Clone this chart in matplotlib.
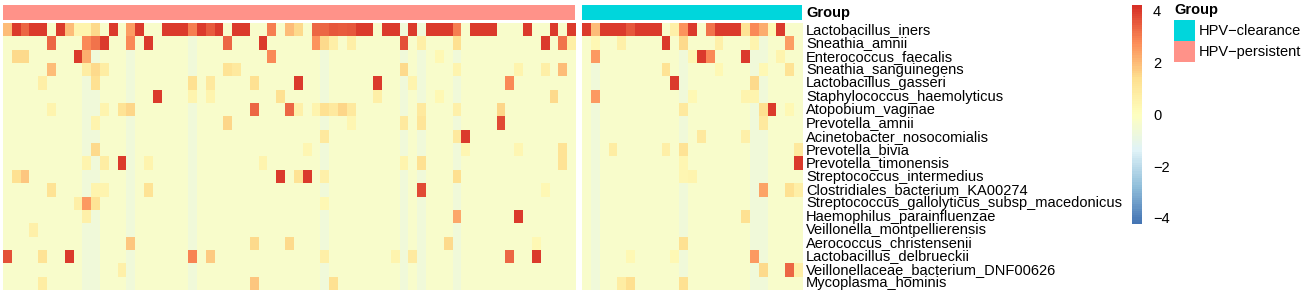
import matplotlib
matplotlib.use("Agg")
import matplotlib.pyplot as plt
import numpy as np
from matplotlib.colors import LinearSegmentedColormap, ListedColormap
from matplotlib.patches import Rectangle

plt.rcParams['font.family'] = ['Liberation Sans', 'DejaVu Sans']

species = [
    "Lactobacillus_iners", "Sneathia_amnii", "Enterococcus_faecalis",
    "Sneathia_sanguinegens", "Lactobacillus_gasseri", "Staphylococcus_haemolyticus",
    "Atopobium_vaginae", "Prevotella_amnii", "Acinetobacter_nosocomialis",
    "Prevotella_bivia", "Prevotella_timonensis", "Streptococcus_intermedius",
    "Clostridiales_bacterium_KA00274", "Streptococcus_gallolyticus_subsp_macedonicus",
    "Haemophilus_parainfluenzae", "Veillonella_montpellierensis",
    "Aerococcus_christensenii", "Lactobacillus_delbrueckii",
    "Veillonellaceae_bacterium_DNF00626", "Mycoplasma_hominis",
]
groups = ["HPV\u2212persistent", "HPV\u2212clearance"]
n_persistent = 65
n_clearance = 25
legend_groups = ["HPV\u2212clearance", "HPV\u2212persistent"]
cbar_ticks = [4, 2, 0, -2, -4]

# row-scaled abundance (z-scores); first 65 samples persistent, last 25 clearance
L_iners = [2.0,4,3.3,4,4,-.3,4,2.0,.5,.5, 1.5,-.3,4,-.3,2.5,4,-.3,-.3,4,4,
           4,3.0,4,3.5,4,-.3,4,4,-.3,-.3, 3.0,-.3,2.0,1.5,-.3,3.3,3.3,3.6,3.5,3.6,
           4,4,-.3,4,4,-.6,4,-.6,4,4, 4,3.0,-.3,4,4,4,-.3,-.3,-.3,4, -.3,-.3,4,-.3,4,
           4,2.0,4,4,4,3.6,4,4,4,-.3, .6,2.7,4,-.3,3.2,4,4,4,1.2,2.8, 2.2,.3,4,-.3,-.3]
S_amnii = [-.3,-.3,-.3,-.3,-.3,3.3,-.3,-.3,-.3,2.8, 3.2,4,-.3,-.3,2.8,-.3,4,-.3,-.3,-.3,
           -.3,-.6,-.3,-.3,-.3,3.3,-.3,-.3,-.3,4, -.3,-.3,-.3,-.3,-.3,2.7,1.5,.7,-.3,.7,
           -.3,-.3,-.3,-.3,-.3,3.7,-.3,.7,-.3,-.3, -.3,1.3,-.3,-.3,-.3,-.3,-.3,-.3,-.3,-.3, -.3,4,-.3,3.2,.7,
           -.3,.3,-.3,-.3,.6,-.3,-.3,-.3,-.3,4, -.3,1.5,-.3,-.3,-.3,.6,-.3,-.3,-.3,.5, -.6,-.3,-.3,2.5,-.3]
E_faecalis = [-.3,1.5,1.5,-.3,-.3,-.3,-.3,-.3,4,2.2, -.6,-.3,-.3,-.3,-.6,-.3,-.3,-.3,-.3,-.3,
              -.3,-.6,-.3,-.3,-.3,-.3,-.3,-.3,-.3,-.3, 2.8,-.3,-.3,-.3,-.3,-.3,-.6,-.3,-.3,-.3,
              -.3,-.3,-.3,-.3,-.3,-.6,-.3,-.6,-.3,.3, -.3,-.6,-.3,-.3,-.3,-.3,-.3,-.3,-.3,-.3, -.3,-.3,-.3,-.3,-.3,
              -.3,2.6,-.3,-.3,-.3,-.3,-.3,-.3,-.3,-.3, -.3,-.6,.4,4,2.8,-.3,-.3,-.3,4,-.6, -.6,-.3,.5,-.3,-.3]
S_sanguinegens = [-.3,-.3,-.3,-.3,-.3,2.0,-.3,-.3,-.3,.8, 1.5,.8,-.3,-.3,-.6,-.3,-.3,-.3,-.3,-.3,
                  -.3,-.6,-.3,-.3,-.3,1.2,1.0,-.3,-.3,-.3, -.3,-.3,-.3,-.3,-.3,-.3,-.6,-.3,-.3,-.3,
                  -.3,-.3,-.3,-.3,-.3,1.5,-.3,-.6,-.3,-.3, -.3,.5,-.3,-.3,-.3,-.3,-.3,-.3,.5,-.3, -.3,.7,-.3,2.0,-.3,
                  -.3,-.6,-.3,-.3,-.3,-.3,-.3,-.3,-.3,1.2, -.3,-.6,-.3,-.3,-.3,.3,-.3,-.3,-.3,-.6, .3,-.3,-.3,1.2,-.3]
L_gasseri = [-.3,-.3,-.3,-.3,.7,-.3,-.3,-.3,-.3,-.6, 1.3,-.3,-.3,-.3,-.6,-.3,-.3,-.3,-.3,-.3,
             -.3,1.3,-.3,1.0,-.3,-.3,-.3,-.3,1.3,-.3, -.3,-.3,-.3,4,-.3,-.3,-.6,-.3,-.3,-.3,
             -.3,-.3,4,-.3,-.3,-.6,.5,-.6,-.3,-.3, -.3,-.6,-.3,-.3,-.3,-.3,-.3,2.8,-.3,-.3, -.3,-.3,-.3,-.3,-.3,
             -.3,-.6,-.3,-.3,-.3,-.3,-.3,-.3,-.3,-.3, 4,-.6,-.3,-.3,-.3,-.3,-.3,-.3,-.3,1.5, -.6,-.3,-.3,-.3,-.3]
S_haemolyticus = [-.3,-.3,-.3,-.3,-.3,-.3,-.3,-.3,-.3,-.6, -.6,-.3,-.3,-.3,-.6,-.3,-.3,4,-.3,-.3,
                  -.3,.5,-.3,.5,-.3,-.3,-.3,-.3,-.3,-.3, -.3,1.3,-.3,-.3,-.3,-.3,-.6,-.3,-.3,-.3,
                  -.3,-.3,.7,-.3,-.3,-.6,-.3,-.6,-.3,.3, -.3,-.6,-.3,-.3,-.3,-.3,-.3,-.3,-.3,-.3, -.3,-.3,1.5,-.3,-.3,
                  -.3,2.6,-.3,-.3,-.3,-.3,-.3,-.3,-.3,-.3, -.3,-.6,.3,-.3,-.3,-.3,-.3,-.3,.5,.5, -.6,-.3,-.3,-.3,-.3]
A_vaginae = [-.3,-.3,-.3,-.3,-.3,.5,-.3,-.3,-.3,-.6, -.6,.5,-.3,1.2,1.6,-.3,-.3,-.3,-.3,-.3,
             -.3,-.6,-.3,-.3,-.3,-.3,-.3,-.3,3.3,-.3, -.3,-.3,3.3,.6,-.3,.5,1.3,1.0,1.6,1.0,
             -.3,-.3,-.3,-.3,-.3,-.6,-.3,1.0,-.3,-.3, -.3,.6,-.3,-.3,-.3,-.3,1.6,-.3,-.3,-.3, -.3,-.3,-.3,-.3,-.3,
             -.3,-.6,-.3,-.3,-.3,-.3,-.3,-.3,-.3,-.3, -.3,1.0,-.3,-.3,-.3,-.3,-.3,-.3,-.3,-.6, 1.4,4,-.3,.3,-.3]
P_amnii = [-.3,-.3,-.3,-.3,-.3,-.3,-.3,-.3,-.3,-.6, .5,-.3,-.3,-.3,-.6,-.3,-.3,-.3,-.3,-.3,
           -.3,-.6,-.3,-.3,-.3,1.6,-.3,-.3,-.3,-.3, -.3,-.3,-.3,-.3,-.3,-.3,-.6,-.3,-.3,.4,
           -.3,-.3,-.3,-.3,-.3,1.0,-.3,1.1,-.3,-.3, -.3,-.6,-.3,-.3,-.3,-.3,3.8,-.3,-.3,-.3, -.3,-.3,-.3,-.3,-.3,
           -.3,-.6,-.3,-.3,-.3,-.3,-.3,-.3,-.3,-.3, -.3,-.6,-.3,-.3,-.3,-.3,-.3,-.3,-.3,-.6, 1.0,-.3,-.3,-.3,-.3]
A_nosocomialis = [-.3,-.3,-.3,-.3,-.3,-.3,-.3,-.3,-.3,-.6, -.6,-.3,-.3,-.3,-.6,-.3,-.3,-.3,-.3,-.3,
                  -.3,-.6,-.3,-.3,-.3,-.3,-.3,-.3,-.3,-.3, -.3,-.3,-.3,-.3,-.3,-.3,1.0,-.3,-.3,-.3,
                  -.3,-.3,-.3,-.3,-.3,-.6,-.3,-.6,-.3,-.3, -.3,1.0,4,-.3,-.3,-.3,-.3,-.3,-.3,-.3, -.3,-.3,-.3,-.3,-.3,
                  -.3,-.6,-.3,-.3,-.3,-.3,-.3,-.3,-.3,-.3, -.3,-.6,-.3,1.0,-.3,-.3,-.3,-.3,.6,-.6, -.6,-.3,-.3,-.3,-.3]
P_bivia = [-.3,-.3,-.3,-.3,-.3,-.3,-.3,-.3,-.3,-.6, 1.5,-.3,-.3,-.3,-.6,-.3,-.3,-.3,-.3,-.3,
           -.3,-.6,-.3,-.3,-.3,-.3,-.3,-.3,-.3,-.3, -.3,-.3,-.3,-.3,.4,-.3,-.6,-.3,-.3,-.3,
           -.3,-.3,-.3,-.3,-.3,-.6,-.3,-.6,-.3,-.3, -.3,-.6,.4,-.3,-.3,-.3,-.3,-.3,.4,-.3, -.3,-.3,-.3,1.2,-.3,
           -.3,-.6,-.3,.8,-.3,-.3,-.3,-.3,-.3,.7, -.3,1.2,-.3,-.3,-.3,-.3,-.3,-.3,-.3,-.6, -.6,-.3,-.3,-.3,1.0]
P_timonensis = [-.3,-.3,-.3,-.3,-.3,-.3,-.3,-.3,-.3,.5, -.6,.8,-.3,4,-.6,-.3,.5,-.3,-.3,-.3,
                -.3,-.6,-.3,-.3,-.3,-.3,-.3,-.3,-.3,.5, -.3,-.3,-.3,-.3,-.3,-.3,-.6,-.3,-.3,-.3,
                -.3,-.3,-.3,-.3,-.3,.5,-.3,1.3,-.3,-.3, -.3,-.6,-.3,-.3,-.3,-.3,-.3,-.3,-.3,-.3, -.3,-.3,-.3,1.2,-.3,
                -.3,-.6,-.3,-.3,-.3,-.3,-.3,-.3,-.3,-.3, -.3,.4,-.3,-.3,-.3,-.3,-.3,-.3,-.3,-.6, -.6,-.3,-.3,-.3,4]
S_intermedius = [-.3,1.3,1.8,-.3,-.3,-.3,-.3,-.3,-.3,-.6, -.6,-.3,-.3,-.3,-.6,-.3,-.3,-.3,-.3,-.3,
                 -.3,-.6,-.3,-.3,-.3,-.3,-.3,-.3,-.3,-.3, -.3,4,-.3,1.2,4,-.3,.6,-.3,-.3,-.3,
                 -.3,-.3,-.3,-.3,-.3,-.6,-.3,-.6,-.3,-.3, -.3,1.4,-.3,-.3,-.3,-.3,-.3,-.3,-.3,-.3, -.3,-.3,-.3,-.3,-.3,
                 -.3,-.6,-.3,-.3,-.3,-.3,-.3,-.3,-.3,-.3, -.3,.4,.5,-.3,-.3,-.3,-.3,-.3,-.3,-.6, -.6,-.3,-.3,-.3,-.3]
C_KA00274 = [-.3,-.3,-.3,-.3,-.3,1.2,-.3,-.3,-.3,-.6, .5,.5,-.3,-.3,-.6,-.3,1.2,-.3,-.3,-.3,
             -.3,-.6,-.3,-.3,-.3,-.3,-.3,-.3,-.3,-.3, -.3,-.3,-.3,-.3,-.3,-.3,-.6,-.3,-.3,-.3,
             -.3,-.3,-.3,-.3,-.3,-.6,-.3,3.8,-.3,-.3, -.3,-.6,-.3,-.3,-.3,-.3,-.3,-.3,-.3,-.3, -.3,.3,-.3,-.3,-.3,
             -.3,-.6,-.3,-.3,-.3,-.3,-.3,-.3,-.3,-.3, -.3,-.6,-.3,-.3,-.3,-.3,-.3,-.3,-.3,-.6, 2.4,-.3,-.3,1.3,.7]
S_gallolyticus = [-.3,-.3,-.3,-.3,-.3,-.3,-.3,-.3,.7,2.6, 1.2,-.3,-.3,-.3,-.6,-.3,-.3,-.3,-.3,-.3,
                  -.3,-.6,-.3,-.3,-.3,-.3,-.3,-.3,-.3,-.3, -.3,-.3,-.3,-.3,-.3,-.3,.3,-.3,-.3,-.3,
                  -.3,-.3,-.3,-.3,-.3,-.6,-.3,-.6,-.3,-.3, -.3,-.6,-.3,-.3,-.3,-.3,-.3,-.3,-.3,-.3, -.3,-.3,-.3,-.3,-.3,
                  -.3,-.6,-.3,-.3,-.3,-.3,-.3,-.3,-.3,-.3, -.3,-.6,-.3,-.3,-.3,-.3,-.3,-.3,-.3,-.6, -.6,-.3,-.3,-.3,-.3]
H_parainfluenzae = [-.3,-.3,-.3,-.3,-.3,-.3,-.3,-.3,-.3,.6, -.6,-.3,-.3,-.3,-.6,-.3,-.3,-.3,-.3,-.3,
                    -.3,-.6,-.3,-.3,-.3,-.3,-.3,-.3,-.3,-.3, -.3,-.3,-.3,-.3,-.3,-.3,-.6,-.3,-.3,-.3,
                    -.3,-.3,-.3,-.3,-.3,-.6,-.3,-.6,-.3,-.3, -.3,2.3,-.3,-.3,-.3,-.3,-.3,-.3,4,-.3, -.3,-.3,-.3,-.3,-.3,
                    -.3,-.6,-.3,-.3,-.3,-.3,-.3,-.3,-.3,-.3, -.3,-.6,-.3,-.3,-.3,-.3,-.3,-.3,1.3,-.6, -.6,-.3,-.3,-.3,-.3]
V_montpellierensis = [-.3,-.3,-.3,.6,-.3,-.3,-.3,-.3,-.3,-.6, -.6,-.3,-.3,-.3,-.6,-.3,-.3,-.3,-.3,-.3,
                      -.3,-.6,-.3,-.3,-.3,-.3,-.3,-.3,-.3,-.3, -.3,-.3,-.3,-.3,-.3,-.3,-.6,-.3,-.3,-.3,
                      -.3,-.3,-.3,-.3,-.3,-.6,-.3,-.6,-.3,-.3, -.3,-.6,-.3,-.3,-.3,-.3,-.3,-.3,-.3,-.3, -.3,-.3,-.3,-.3,-.3,
                      -.3,-.6,-.3,-.3,-.3,-.3,-.3,-.3,-.3,-.3, -.3,-.6,-.3,-.3,-.3,-.3,-.3,-.3,-.3,-.6, -.6,-.3,-.3,-.3,-.3]
A_christensenii = [-.3,-.3,-.3,-.3,-.3,-.3,-.3,-.3,-.3,-.6, -.6,-.3,-.3,-.3,1.8,-.3,-.3,-.3,-.3,-.3,
                   -.3,-.6,-.3,-.3,-.3,-.3,-.3,-.3,1.5,-.3, -.3,-.3,1.5,-.3,-.3,-.3,-.6,-.3,-.3,-.3,
                   -.3,-.3,-.3,-.3,-.3,-.6,-.3,-.6,-.3,-.3, 1.5,-.6,-.3,-.3,-.3,-.3,-.3,-.3,-.3,-.3, .3,-.3,-.3,-.3,-.3,
                   -.3,-.6,-.3,-.3,-.3,-.3,-.3,-.3,-.3,-.3, -.3,1.3,-.3,-.3,-.3,-.3,-.3,-.3,-.3,-.6, -.6,-.3,-.3,-.3,-.3]
L_delbrueckii = [3.7,-.3,-.3,-.3,1.2,-.3,-.3,4,-.3,-.6, -.6,-.3,-.3,-.3,-.6,-.3,-.3,-.3,-.3,-.3,
                 -.3,2.9,-.3,1.7,-.3,-.3,-.3,-.3,-.3,-.3, -.3,-.3,-.3,-.3,-.3,-.3,.7,-.3,-.3,-.3,
                 -.3,-.3,-.3,-.3,.5,-.6,.9,-.6,-.3,-.3, -.3,-.6,-.3,-.3,-.3,-.3,-.3,3.3,-.3,-.3, 4,-.3,-.3,-.3,-.3,
                 -.3,-.6,-.3,-.3,-.3,.3,-.3,-.3,-.3,-.3, .3,-.6,-.3,-.3,-.3,-.3,-.3,-.3,-.3,2.6, -.6,-.3,-.3,-.3,-.3]
V_DNF00626 = [-.3,-.3,-.3,-.3,-.3,-.3,-.3,-.3,-.3,-.6, -.6,-.3,-.3,.6,-.6,-.3,-.3,-.3,-.3,-.3,
              -.3,-.6,-.3,-.3,-.3,-.3,-.3,-.3,-.3,-.3, -.3,-.3,-.3,-.3,-.3,-.3,-.6,-.3,-.3,-.3,
              -.3,-.3,-.3,-.3,-.3,-.6,-.3,-.6,-.3,-.3, -.3,-.6,-.3,-.3,-.3,-.3,-.3,-.3,-.3,-.3, -.3,-.3,-.3,-.3,-.3,
              -.3,-.6,-.3,-.3,-.3,-.3,-.3,-.3,-.3,-.3, -.3,-.6,-.3,-.3,-.3,-.3,-.3,-.3,-.3,-.6, 1.5,-.3,-.3,3.3,.7]
M_hominis = [-.3,-.3,-.3,-.3,.8,-.3,-.3,-.3,-.3,-.6, -.6,-.3,-.3,-.3,-.6,-.3,-.3,-.3,-.3,-.3,
             -.3,-.6,-.3,-.3,-.3,-.3,-.3,-.3,1.8,-.3, -.3,-.3,-.3,-.3,-.3,-.3,-.6,1.3,-.3,-.3,
             -.3,-.3,-.3,-.3,-.3,-.6,-.3,-.6,-.3,-.3, -.3,-.6,-.3,-.3,-.3,-.3,-.3,-.3,-.3,-.3, -.3,-.3,-.3,-.3,-.3,
             -.3,-.6,-.3,-.3,.8,1.4,-.3,-.3,-.3,-.3, -.3,1.3,-.3,-.3,-.3,-.3,-.3,-.3,-.3,-.6, -.6,-.3,-.3,-.3,-.3]

rows = [L_iners, S_amnii, E_faecalis, S_sanguinegens, L_gasseri, S_haemolyticus,
        A_vaginae, P_amnii, A_nosocomialis, P_bivia, P_timonensis, S_intermedius,
        C_KA00274, S_gallolyticus, H_parainfluenzae, V_montpellierensis,
        A_christensenii, L_delbrueckii, V_DNF00626, M_hominis]
M = np.array(rows, dtype=float)

# ---- style ----
W, H = 1305, 294
pal = ["#4575B4", "#91BFDB", "#E0F3F8", "#FFFFBF", "#FEE090", "#FC8D59", "#D73027"]
cmap = ListedColormap(LinearSegmentedColormap.from_list("rdylbu", pal)(np.linspace(0, 1, 100)))
vmin, vmax = -4.23, 4.23
col_persist = "#FF9289"
col_clear = "#00D6DC"

fig = plt.figure(figsize=(W / 100, H / 100), dpi=100)

def box(x0, y0, x1, y1):
    return [x0 / W, 1 - y1 / H, (x1 - x0) / W, (y1 - y0) / H]

top, bottom = 23.3, 289.8
g1_x0, g1_x1 = 3.0, 575.3
g2_x0, g2_x1 = 582.3, 802.3
ann_y0, ann_y1 = 5.0, 19.5

blocks = [(g1_x0, g1_x1, M[:, :n_persistent], col_persist),
          (g2_x0, g2_x1, M[:, n_persistent:n_persistent + n_clearance], col_clear)]
for x0, x1, data, acol in blocks:
    ax = fig.add_axes(box(x0, top, x1, bottom))
    ax.imshow(data, cmap=cmap, vmin=vmin, vmax=vmax, aspect="auto", interpolation="nearest")
    ax.set_axis_off()
    axa = fig.add_axes(box(x0, ann_y0, x1, ann_y1))
    axa.add_patch(Rectangle((0, 0), 1, 1, color=acol))
    axa.set_xlim(0, 1); axa.set_ylim(0, 1)
    axa.set_axis_off()

fs = 10.5
rh = (bottom - top) / len(species)
for i, name in enumerate(species):
    y = top + rh * (i + 0.5)
    fig.text(806 / W, 1 - y / H, name, fontsize=fs, ha="left", va="center")
fig.text(806 / W, 1 - 12.5 / H, "Group", fontsize=fs, fontweight="bold", ha="left", va="center")

# colorbar
cax = fig.add_axes(box(1132, 5.0, 1142, 223.9))
grad = np.linspace(vmax, vmin, 400).reshape(-1, 1)
cax.imshow(grad, cmap=cmap, vmin=vmin, vmax=vmax, aspect="auto",
           extent=[0, 1, vmin, vmax], interpolation="nearest")
cax.set_xlim(0, 1); cax.set_ylim(vmin, vmax)
cax.set_xticks([])
cax.yaxis.tick_right()
cax.set_yticks(cbar_ticks)
cax.set_yticklabels([str(t).replace("-", "\u2212") for t in cbar_ticks], fontsize=fs)
cax.tick_params(axis="y", length=0, pad=8)
for s in cax.spines.values():
    s.set_visible(False)

# group legend
fig.text(1174 / W, 1 - 10 / H, "Group", fontsize=fs, fontweight="bold", ha="left", va="center")
lcols = {"HPV\u2212clearance": col_clear, "HPV\u2212persistent": col_persist}
for k, lab in enumerate(legend_groups):
    y0 = 20 + 21 * k
    lax = fig.add_axes(box(1174, y0, 1195, y0 + 21))
    lax.add_patch(Rectangle((0, 0), 1, 1, color=lcols[lab]))
    lax.set_xlim(0, 1); lax.set_ylim(0, 1); lax.set_axis_off()
    fig.text(1199 / W, 1 - (y0 + 11) / H, lab, fontsize=fs, ha="left", va="center")

fig.savefig("out.png", dpi=100, facecolor="white")
